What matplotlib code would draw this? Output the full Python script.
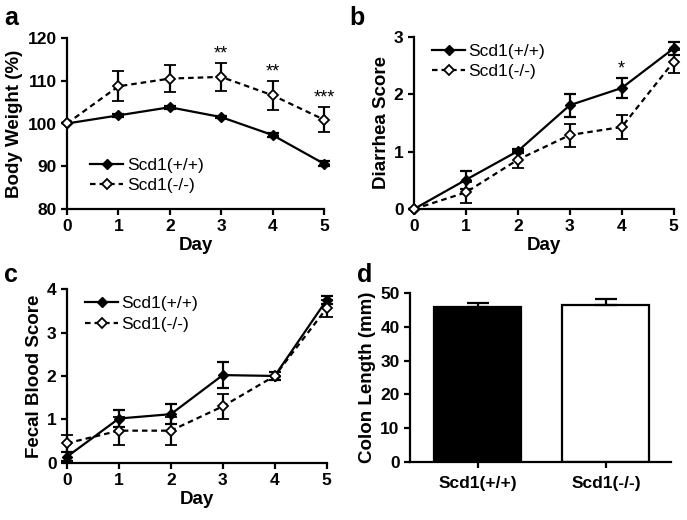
import matplotlib
matplotlib.use("Agg")
import matplotlib.pyplot as plt
from matplotlib.lines import Line2D
import numpy as np

plt.rcParams["font.family"] = ["Liberation Sans", "DejaVu Sans"]

# ── Data ──────────────────────────────────────────────────────────────────────
days = [0, 1, 2, 3, 4, 5]
labels = ["Scd1(+/+)", "Scd1(-/-)"]

bw_wt = [100, 101.9, 103.8, 101.5, 97.3, 90.6]
bw_wt_err = [0, 0.3, 0.3, 0.3, 0.4, 0.6]
bw_ko = [100, 108.7, 110.5, 110.9, 106.6, 100.9]
bw_ko_err = [0, 3.5, 3.2, 3.3, 3.4, 3.0]
bw_stars = ["", "", "", "**", "**", "***"]

dia_wt = [0, 0.51, 1.01, 1.81, 2.11, 2.8]
dia_wt_err = [0, 0.16, 0.03, 0.2, 0.18, 0.12]
dia_ko = [0, 0.29, 0.86, 1.29, 1.43, 2.57]
dia_ko_err = [0, 0.19, 0.15, 0.2, 0.21, 0.2]
dia_stars = ["", "", "", "", "*", ""]

fb_wt = [0.14, 1.02, 1.12, 2.02, 2.0, 3.75]
fb_wt_err = [0.1, 0.2, 0.23, 0.3, 0.1, 0.1]
fb_ko = [0.45, 0.74, 0.74, 1.3, 2.0, 3.56]
fb_ko_err = [0.2, 0.32, 0.32, 0.28, 0.1, 0.2]

colon = [45.9, 46.6]
colon_err = [1.2, 1.5]

DASH = (0, (2.5, 1.8))


# ── Helpers ───────────────────────────────────────────────────────────────────

def style_axis(ax):
    for s in ("top", "right"):
        ax.spines[s].set_visible(False)
    for s in ("left", "bottom"):
        ax.spines[s].set_linewidth(1.6)
    ax.tick_params(direction="out", length=4, width=1.6, labelsize=12.5)
    for t in ax.get_xticklabels() + ax.get_yticklabels():
        t.set_fontweight("bold")


def line_panel(ax, wt, wt_err, ko, ko_err, ylim, yticks, ylabel, legend_loc,
               legend_anchor):
    ax.errorbar(days, wt, yerr=wt_err, color="black", lw=1.6, marker="D",
                ms=5, mfc="black", capsize=4.5, elinewidth=1.6, capthick=1.6,
                clip_on=False, zorder=3)
    ax.errorbar(days, ko, yerr=ko_err, color="black", lw=1.6, ls=DASH,
                marker="D", ms=5.5, mfc="white", mew=1.3, capsize=4.5,
                elinewidth=1.6, capthick=1.6, clip_on=False, zorder=4)
    ax.set_xlim(0, 5)
    ax.set_ylim(*ylim)
    ax.set_xticks(days)
    ax.set_yticks(yticks)
    ax.set_xlabel("Day", fontsize=13.5, fontweight="bold", labelpad=2)
    ax.set_ylabel(ylabel, fontsize=13.5, fontweight="bold", labelpad=3)
    handles = [
        Line2D([], [], color="black", lw=1.6, marker="D", ms=5, mfc="black"),
        Line2D([], [], color="black", lw=1.6, ls=DASH, marker="D", ms=5.5,
               mfc="white", mew=1.3),
    ]
    ax.legend(handles, labels, loc=legend_loc, bbox_to_anchor=legend_anchor,
              frameon=False, fontsize=12.5, handlelength=1.9,
              handletextpad=0.2, labelspacing=0.3, borderaxespad=0.2)
    style_axis(ax)


fig = plt.figure(figsize=(6.87, 5.20), dpi=100)

# ── Panel a ───────────────────────────────────────────────────────────────────
ax_a = fig.add_axes([0.0975, 0.598, 0.374, 0.329])
line_panel(ax_a, bw_wt, bw_wt_err, bw_ko, bw_ko_err, (80, 120),
           [80, 90, 100, 110, 120], "Body Weight (%)", "lower left",
           (0.05, 0.03))
for d, m, e, s in zip(days, bw_ko, bw_ko_err, bw_stars):
    if s:
        ax_a.text(d, m + e + 0.1, s, ha="center", va="bottom", fontsize=13)

# ── Panel b ───────────────────────────────────────────────────────────────────
ax_b = fig.add_axes([0.6026, 0.598, 0.378, 0.331])
line_panel(ax_b, dia_wt, dia_wt_err, dia_ko, dia_ko_err, (0, 3),
           [0, 1, 2, 3], "Diarrhea Score", "upper left", (0.03, 1.02))
for d, m, e, s in zip(days, dia_wt, dia_wt_err, dia_stars):
    if s:
        ax_b.text(d, m + e + 0.0, s, ha="center", va="bottom", fontsize=13)

# ── Panel c ───────────────────────────────────────────────────────────────────
ax_c = fig.add_axes([0.0975, 0.110, 0.378, 0.334])
line_panel(ax_c, fb_wt, fb_wt_err, fb_ko, fb_ko_err, (0, 4),
           [0, 1, 2, 3, 4], "Fecal Blood Score", "upper left", (0.03, 1.02))

# ── Panel d ───────────────────────────────────────────────────────────────────
ax_d = fig.add_axes([0.597, 0.1115, 0.380, 0.325])
x = np.arange(len(labels))
ax_d.bar(x, colon, width=0.68, color=["black", "white"], edgecolor="black",
         linewidth=1.6, zorder=2)
ax_d.errorbar(x, colon, yerr=[[0, 0], colon_err], fmt="none", ecolor="black",
              elinewidth=1.6, capsize=8, capthick=1.6, zorder=3)
ax_d.set_xlim(-0.53, 1.51)
ax_d.set_ylim(0, 50)
ax_d.set_yticks([0, 10, 20, 30, 40, 50])
ax_d.set_xticks(x)
ax_d.set_xticklabels(labels)
ax_d.set_ylabel("Colon Length (mm)", fontsize=13.5, fontweight="bold",
                labelpad=3)
style_axis(ax_d)
ax_d.tick_params(axis="x", pad=6)

# ── Panel letters ─────────────────────────────────────────────────────────────
for lt, (fx, fy) in zip("abcd", [(0.006, 0.965), (0.508, 0.965),
                                 (0.006, 0.472), (0.52, 0.472)]):
    fig.text(fx, fy, lt, fontsize=18, fontweight="bold", va="center")

plt.savefig("out.png", dpi=100)
plt.close()
